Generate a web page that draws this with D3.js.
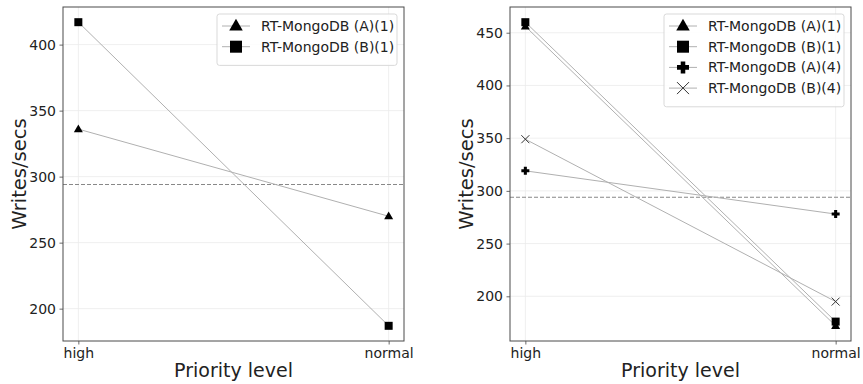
<!DOCTYPE html>
<html>
<head>
<meta charset="utf-8">
<script src="https://cdn.jsdelivr.net/npm/d3@7"></script>
<style>
body{margin:0;background:#fff;}
svg text{font-family:"DejaVu Sans",sans-serif;fill:#222;}
</style>
</head>
<body>
<svg id="chart" width="863" height="384"></svg>
<script>
// priority levels on the x axis
const levels = ["high", "normal"];

// left panel: single client
const leftA1 = [336, 270];
const leftB1 = [417, 187];
const leftTicks = [200, 250, 300, 350, 400];

// right panel: 1 and 4 clients
const rightA1 = [456, 172];
const rightB1 = [460, 176];
const rightA4 = [319, 278];
const rightB4 = [349, 195];
const rightTicks = [200, 250, 300, 350, 400, 450];

// baseline shown as dashed line
const baseline = 294;

const svg = d3.select("#chart");

function drawMarker(g, type, x, y, s){
	if(type == "triangle"){
		g.append("path")
			.attr("d", d3.symbol().type(d3.symbolTriangle).size(s*s*0.55)())
			.attr("transform", "translate(" + x + "," + (y+0.5) + ")")
			.attr("fill", "#000");
	}else if(type == "square"){
		g.append("rect")
			.attr("x", x - s/2).attr("y", y - s/2)
			.attr("width", s).attr("height", s)
			.attr("fill", "#000");
	}else if(type == "plus"){
		let t = s*0.38;
		g.append("path")
			.attr("d", "M" + (x - s/2) + "," + (y - t/2) + "h" + s + "v" + t + "h" + (-s) + "Z" +
				"M" + (x - t/2) + "," + (y - s/2) + "h" + t + "v" + s + "h" + (-t) + "Z")
			.attr("fill", "#000");
	}else if(type == "cross"){
		let h = s/2;
		g.append("path")
			.attr("d", "M" + (x-h) + "," + (y-h) + "L" + (x+h) + "," + (y+h) + "M" + (x-h) + "," + (y+h) + "L" + (x+h) + "," + (y-h))
			.attr("stroke", "#333")
			.attr("stroke-width", 1)
			.attr("fill", "none");
	}
}

function drawPanel(opt){
	let left = opt.left, top = 7, w = 341, h = 334;
	let g = svg.append("g").attr("transform", "translate(" + left + "," + top + ")");

	let allVals = [];
	opt.series.forEach(function(s){ allVals = allVals.concat(s.values); });
	let minV = d3.min(allVals), maxV = d3.max(allVals);
	let pad = (maxV - minV) * 0.05;

	let x = d3.scalePoint().domain(levels).range([w*0.045, w - w*0.045]).padding(0);
	let y = d3.scaleLinear().domain([minV - pad, maxV + pad]).range([h, 0]);

	// grid
	g.append("g").selectAll("line.hg").data(opt.ticks).enter().append("line")
		.attr("x1", 0).attr("x2", w)
		.attr("y1", d => y(d)).attr("y2", d => y(d))
		.attr("stroke", "#ebebeb").attr("stroke-width", 0.8);
	g.append("g").selectAll("line.vg").data(levels).enter().append("line")
		.attr("y1", 0).attr("y2", h)
		.attr("x1", d => x(d)).attr("x2", d => x(d))
		.attr("stroke", "#ebebeb").attr("stroke-width", 0.8);

	// axes
	let yAxis = g.append("g").call(d3.axisLeft(y).tickValues(opt.ticks).tickSize(3.5).tickPadding(3.5));
	let xAxis = g.append("g").attr("transform", "translate(0," + h + ")")
		.call(d3.axisBottom(x).tickSize(3.5).tickPadding(3.5));
	[yAxis, xAxis].forEach(function(a){
		a.attr("font-size", null);
		a.select(".domain").remove();
		a.selectAll(".tick line").attr("stroke", "#444").attr("stroke-width", 0.8);
		a.selectAll(".tick text").style("font-size", "14px").attr("fill", "#222")
			.style("font-family", "DejaVu Sans, sans-serif");
	});

	// dashed baseline
	g.append("line")
		.attr("x1", 0).attr("x2", w)
		.attr("y1", y(baseline)).attr("y2", y(baseline))
		.attr("stroke", "#888").attr("stroke-width", 1.1)
		.attr("stroke-dasharray", "4,2");

	// series lines and markers
	let line = d3.line().x((d, i) => x(levels[i])).y(d => y(d));
	opt.series.forEach(function(s){
		g.append("path").datum(s.values)
			.attr("d", line)
			.attr("fill", "none")
			.attr("stroke", "#b0b0b0")
			.attr("stroke-width", 1);
	});
	opt.series.forEach(function(s){
		s.values.forEach(function(v, i){
			drawMarker(g, s.marker, x(levels[i]), y(v), 8);
		});
	});

	// frame
	g.append("rect").attr("x", 0).attr("y", 0).attr("width", w).attr("height", h)
		.attr("fill", "none").attr("stroke", "#4a4a4a").attr("stroke-width", 1);

	// legend
	let lw = opt.legendW, lh = 10 + opt.series.length*20.7;
	let lg = g.append("g").attr("transform", "translate(" + (w - lw - 7) + ",7)");
	lg.append("rect").attr("width", lw).attr("height", lh)
		.attr("rx", 2.5).attr("fill", "#fff").attr("fill-opacity", 0.85)
		.attr("stroke", "#d5d5d5").attr("stroke-width", 0.9);
	opt.series.forEach(function(s, i){
		let cy = 12 + i*20.7;
		lg.append("line").attr("x1", 5).attr("x2", 33).attr("y1", cy).attr("y2", cy)
			.attr("stroke", "#b0b0b0").attr("stroke-width", 1);
		drawMarker(lg, s.marker, 19, cy, 12);
		lg.append("text").attr("x", 44).attr("y", cy + 5)
			.style("font-size", "14px").text(s.name);
	});

	// axis titles
	svg.append("text")
		.attr("transform", "translate(" + (left - 37) + "," + (top + h/2) + ") rotate(-90)")
		.attr("text-anchor", "middle")
		.style("font-size", "19.5px")
		.text("Writes/secs");
	svg.append("text")
		.attr("x", left + w/2).attr("y", 377)
		.attr("text-anchor", "middle")
		.style("font-size", "19px")
		.text("Priority level");
}

drawPanel({
	left: 63,
	ticks: leftTicks,
	legendW: 180,
	series: [
		{name: "RT-MongoDB (A)(1)", values: leftA1, marker: "triangle"},
		{name: "RT-MongoDB (B)(1)", values: leftB1, marker: "square"}
	]
});

drawPanel({
	left: 510,
	ticks: rightTicks,
	legendW: 180,
	series: [
		{name: "RT-MongoDB (A)(1)", values: rightA1, marker: "triangle"},
		{name: "RT-MongoDB (B)(1)", values: rightB1, marker: "square"},
		{name: "RT-MongoDB (A)(4)", values: rightA4, marker: "plus"},
		{name: "RT-MongoDB (B)(4)", values: rightB4, marker: "cross"}
	]
});
</script>
</body>
</html>
